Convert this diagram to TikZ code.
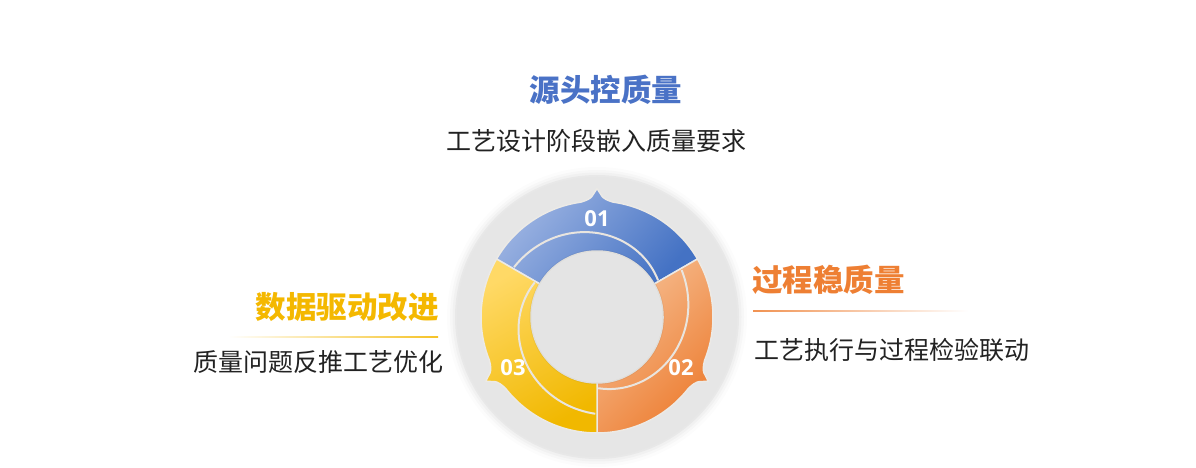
\documentclass[tikz,border=0pt]{standalone}
\usepackage{fontspec}
\newfontfamily\cjk{Noto Sans CJK SC}
\newfontfamily\numfont{Open Sans}
\definecolor{diskgray}{HTML}{E6E6E6}
\definecolor{holegray}{HTML}{E4E4E4}
\definecolor{sepcol}{HTML}{ECEAE6}
\definecolor{arccol}{HTML}{E9E5DF}
\definecolor{tblue}{HTML}{4A72C6}
\definecolor{torange}{HTML}{EE7F33}
\definecolor{tgold}{HTML}{F4B800}
\definecolor{txt}{HTML}{222222}
\definecolor{bL}{HTML}{9DB4E2}
\definecolor{bM}{HTML}{7795D4}
\definecolor{bD}{HTML}{4472C4}
\definecolor{oL}{HTML}{F6BE92}
\definecolor{oM}{HTML}{F29C5E}
\definecolor{oD}{HTML}{ED7D31}
\definecolor{yL}{HTML}{FFD966}
\definecolor{yM}{HTML}{F9CB3C}
\definecolor{yD}{HTML}{F1B800}
\newcommand\segpath[3]{(#1:66) -- (#1:116) arc[start angle=#1, end angle={#3-8}, radius=116]
  .. controls ({#3-5}:117) and ({#3-3.5}:118.5) .. ({#3-2.5}:120.5) -- (#3:128.5) -- ({#3+2.5}:120.5)
  .. controls ({#3+3.5}:118.5) and ({#3+5}:117) .. ({#3+8}:116)
  arc[start angle={#3+8}, end angle=#2, radius=116] -- (#2:66) arc[start angle=#2, end angle=#1, radius=66] -- cycle}
\tikzset{
  segline/.style={draw=sepcol, line width=1.5pt, line join=round},
  thinarc/.style={draw=arccol, line width=2pt},
  numlabel/.style={text=white, font=\numfont\bfseries\fontsize{22}{22}\selectfont, inner sep=0pt},
  titlelabel/.style={font=\cjk\bfseries\fontsize{30.5}{30.5}\selectfont, inner sep=0pt},
  sublabel/.style={text=txt, font=\cjk\fontsize{25}{25}\selectfont, inner sep=0pt}
}
\begin{document}
\begin{tikzpicture}[x=1pt,y=1pt]
\useasboundingbox (0,0) rectangle (1196,468);
\fill[white] (0,0) rectangle (1196,468);
\begin{scope}[shift={(597,151)}]
  \foreach \r/\o in {150/0.012,147/0.018,144.5/0.025,142/0.035}
    \fill[black, opacity=\o] (0,0) circle (\r);
  \fill[diskgray] (0,0) circle (140);
  % segments
  \shadedraw[segline, top color=bL, middle color=bM, bottom color=bD, shading angle=50] \segpath{30}{150}{90};
  \shadedraw[segline, top color=oL, middle color=oM, bottom color=oD, shading angle=45] \segpath{-90}{30}{-30};
  \shadedraw[segline, top color=yL, middle color=yM, bottom color=yD, shading angle=30] \segpath{150}{270}{210};
  % hole
  \fill[black, opacity=0.05] (0,0) circle (67.5);
  \fill[holegray] (0,0) circle (65.5);
  % thin arcs
  \draw[thinarc] plot[domain=31:149, samples=50] (\x:{71+26*(\x-30)/120});
  \draw[thinarc] plot[domain=-89:29, samples=50] (\x:{71+26*(\x+90)/120});
  \draw[thinarc] plot[domain=151:269, samples=50] (\x:{71+26*(\x-150)/120});
  % numbers
  \node[numlabel] (n1) at (90:98) {01};
  \node[numlabel] (n2) at (-31:98) {02};
  \node[numlabel] (n3) at (211:98) {03};
\end{scope}
% top block
\node[titlelabel, text=tblue] (t1) at (606,378) {源头控质量};
\shade[left color=white, middle color=tblue!80, right color=white] (508,354.3) rectangle (683,355.7);
\node[sublabel] (s1) at (596,327) {工艺设计阶段嵌入质量要求};
% right block
\node[titlelabel, text=torange, anchor=west] (t2) at (752,188) {过程稳质量};
\shade[left color=torange!85, right color=white] (753,156.3) rectangle (968,157.7);
\node[sublabel, anchor=west] (s2) at (754,118) {工艺执行与过程检验联动};
% left block
\node[titlelabel, text=tgold, anchor=east] (t3) at (439,161) {数据驱动改进};
\shade[left color=white, right color=tgold!85] (228,130.3) rectangle (438,131.7);
\node[sublabel, anchor=east] (s3) at (444,106) {质量问题反推工艺优化};
\end{tikzpicture}
\end{document}
